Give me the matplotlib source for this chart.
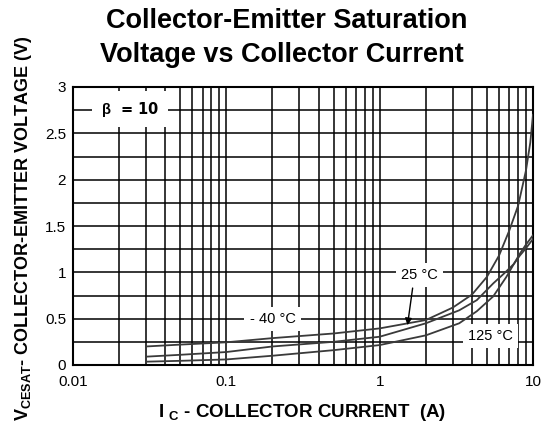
import matplotlib
matplotlib.use("Agg")
import matplotlib.pyplot as plt
import numpy as np

plt.rcParams['font.family'] = ['Liberation Sans', 'DejaVu Sans']
plt.rcParams['mathtext.fontset'] = 'custom'
plt.rcParams['mathtext.rm'] = 'Liberation Sans:bold'
plt.rcParams['mathtext.it'] = 'Liberation Sans:bold'
plt.rcParams['mathtext.bf'] = 'Liberation Sans:bold'
plt.rcParams['mathtext.default'] = 'rm'

# Data
ic_m40 = [0.03, 0.05, 0.1, 0.2, 0.5, 1.0, 2.0, 3.0, 4.0, 5.0, 6.0, 7.0, 8.0, 9.0, 9.6, 10.0]
v_m40 = [0.20, 0.22, 0.245, 0.29, 0.34, 0.395, 0.485, 0.62, 0.76, 0.95, 1.18, 1.45, 1.72, 2.1, 2.4, 2.7]

ic_25 = [0.03, 0.05, 0.1, 0.2, 0.5, 1.0, 2.0, 3.3, 4.3, 5.5, 6.5, 7.5, 8.2, 9.0, 10.0]
v_25 = [0.09, 0.11, 0.14, 0.20, 0.25, 0.305, 0.45, 0.59, 0.70, 0.88, 0.99, 1.09, 1.18, 1.26, 1.36]

ic_125 = [0.03, 0.05, 0.1, 0.2, 0.5, 1.0, 2.0, 3.3, 4.3, 5.5, 6.7, 7.5, 8.2, 9.0, 10.0]
v_125 = [0.036, 0.045, 0.06, 0.10, 0.16, 0.215, 0.32, 0.45, 0.58, 0.74, 0.95, 1.09, 1.2, 1.3, 1.40]

x_ticks = [0.01, 0.1, 1, 10]
x_ticklabels = ['0.01', '0.1', '1', '10']
y_ticks = [0, 0.5, 1, 1.5, 2, 2.5, 3]
y_ticklabels = ['0', '0.5', '1', '1.5', '2', '2.5', '3']

fig = plt.figure(figsize=(5.5, 4.26), dpi=100)
ax = fig.add_axes([73/550, 1-365/426, 460/550, 278/426])
ax.set_xscale('log')
ax.set_xlim(0.01, 10)
ax.set_ylim(0, 3)

# grid
for dec in [0.01, 0.1, 1]:
    for m in range(1, 10):
        ax.axvline(dec*m, color='black', lw=1.1, zorder=1)
for yv in np.arange(0.25, 3.0, 0.25):
    ax.axhline(yv, color='black', lw=1.1, zorder=1)

curve_kw = dict(color='#3a3a3a', lw=1.3, zorder=3)
ax.plot(ic_m40, v_m40, **curve_kw)
ax.plot(ic_25, v_25, **curve_kw)
ax.plot(ic_125, v_125, **curve_kw)

box = dict(boxstyle='square,pad=0.35', fc='white', ec='none')
ax.text(0.0235, 2.76, r'$\beta$  = 10', fontsize=10.5, fontweight='bold', ha='center', va='center',
        bbox=dict(boxstyle='square,pad=0.6', fc='white', ec='none'), zorder=4,
        family=['DejaVu Sans'])
ax.text(0.2, 0.50, '- 40 °C', fontsize=10.5, ha='center', va='center', bbox=box, zorder=4)
ax.text(1.81, 0.97, '25 °C', fontsize=10.5, ha='center', va='center', bbox=box, zorder=4)
ax.text(5.25, 0.31, '125 °C', fontsize=10.5, ha='center', va='center', bbox=box, zorder=4)
ax.annotate('', xy=(1.51, 0.40), xytext=(1.65, 0.86),
            arrowprops=dict(arrowstyle='-|>', color='black', lw=1.0, mutation_scale=10), zorder=5)

ax.set_xticks(x_ticks)
ax.set_xticklabels(x_ticklabels)
ax.set_yticks(y_ticks)
ax.set_yticklabels(y_ticklabels)
ax.minorticks_off()
ax.tick_params(length=0, labelsize=11)
ax.tick_params(axis='x', pad=7.5)
ax.tick_params(axis='y', pad=5)
for s in ax.spines.values():
    s.set_linewidth(1.5)
    s.set_color('black')

fig.text(24/550, 1-228/426, r'V$_{CESAT}$- COLLECTOR-EMITTER VOLTAGE (V)', rotation=90,
         ha='center', va='center', fontsize=13, fontweight='bold')
fig.text(302/550, 1-417/426, r'I $_{C}$ - COLLECTOR CURRENT  (A)', ha='center', va='baseline',
         fontsize=13.5, fontweight='bold')
fig.text(287/550, 1-28/426, 'Collector-Emitter Saturation', ha='center', va='baseline',
         fontsize=19.5, fontweight='bold')
fig.text(282/550, 1-62/426, 'Voltage vs Collector Current', ha='center', va='baseline',
         fontsize=19.5, fontweight='bold')

fig.savefig('out.png', dpi=100)
